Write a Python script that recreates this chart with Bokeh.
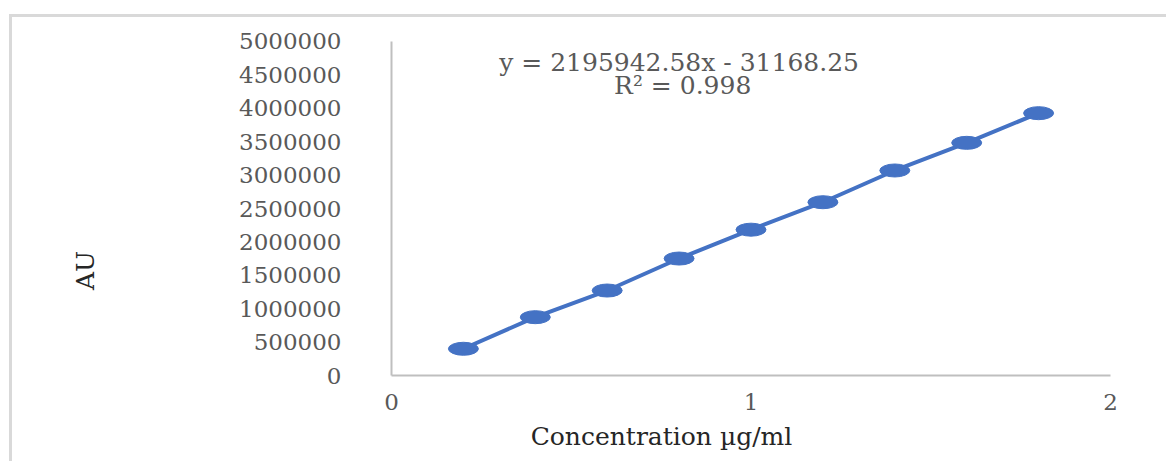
import math
from bokeh.plotting import figure
from bokeh.models import Label, FixedTicker, ColumnDataSource
from bokeh.embed import file_html
from bokeh.resources import INLINE

# Calibration data: concentration (µg/ml) vs. detector response (AU)
concentration = [0.2, 0.4, 0.6, 0.8, 1.0, 1.2, 1.4, 1.6, 1.8]
response = [400000, 873000, 1272000, 1751000, 2183000, 2594000, 3069000, 3483000, 3927000]

x_ticks = [0, 1, 2]
y_ticks = [0, 500000, 1000000, 1500000, 2000000, 2500000, 3000000, 3500000, 4000000, 4500000, 5000000]

equation_text = "y = 2195942.58x - 31168.25"
r2_text = "R² = 0.998"
x_title = "Concentration µg/ml"
y_title = "AU"

SERIF = "DejaVu Serif"
BLUE = "#4472C4"
GREY_TEXT = "#595959"
DARK_TEXT = "#262626"
AXIS_GREY = "#bfbfbf"

# The frame fills the whole canvas; the axes are pinned at x=0 / y=0 and
# bounded to the plotted span so that titles can sit freely around them.
p = figure(
    width=1157, height=447,
    x_range=(-1.0542, 2.1641), y_range=(-1332335, 5359281),
    output_backend="svg", toolbar_location=None,
    min_border_left=0, min_border_right=0,
    min_border_top=0, min_border_bottom=0,
)
p.styles = {
    "margin-left": "9px", "margin-top": "14px",
    "border-top": "3px solid #d9d9d9", "border-left": "3px solid #d9d9d9",
}

p.outline_line_color = None
p.background_fill_color = "white"
p.border_fill_color = "white"
p.xgrid.grid_line_color = None
p.ygrid.grid_line_color = None

xax = p.xaxis[0]
yax = p.yaxis[0]
xax.fixed_location = 0
yax.fixed_location = 0
xax.bounds = (0, 2)
yax.bounds = (0, 5000000)

for ax in (xax, yax):
    ax.axis_line_color = AXIS_GREY
    ax.axis_line_width = 2
    ax.major_tick_line_color = None
    ax.minor_tick_line_color = None
    ax.major_label_text_font = SERIF
    ax.major_label_text_font_size = "23px"
    ax.major_label_text_color = GREY_TEXT

xax.ticker = FixedTicker(ticks=x_ticks)
yax.ticker = FixedTicker(ticks=y_ticks)
xax.major_label_standoff = 12
yax.major_label_standoff = 44
xax.major_label_overrides = {t: str(t) for t in x_ticks}
yax.major_label_overrides = {t: str(t) for t in y_ticks}

src = ColumnDataSource(dict(x=concentration, y=response))
p.line("x", "y", source=src, line_color=BLUE, line_width=4)
p.ellipse("x", "y", width=30, height=13, width_units="screen", height_units="screen",
          source=src, fill_color=BLUE, line_color=BLUE)

p.add_layout(Label(x=0.80, y=4690000, text=equation_text, text_align="center",
                   text_baseline="middle", text_font=SERIF, text_font_size="25px",
                   text_color=GREY_TEXT))
p.add_layout(Label(x=0.81, y=4345000, text=r2_text, text_align="center",
                   text_baseline="middle", text_font=SERIF, text_font_size="25px",
                   text_color=GREY_TEXT))

p.add_layout(Label(x=0.751, y=-913000, text=x_title, text_align="center",
                   text_baseline="middle", text_font=SERIF, text_font_size="25px",
                   text_color=DARK_TEXT))
p.add_layout(Label(x=-0.851, y=1572000, text=y_title, text_align="center",
                   text_baseline="middle", angle=math.pi / 2, text_font=SERIF,
                   text_font_size="25px", text_color=DARK_TEXT))

open("out.html", "w").write(file_html(p, INLINE))
